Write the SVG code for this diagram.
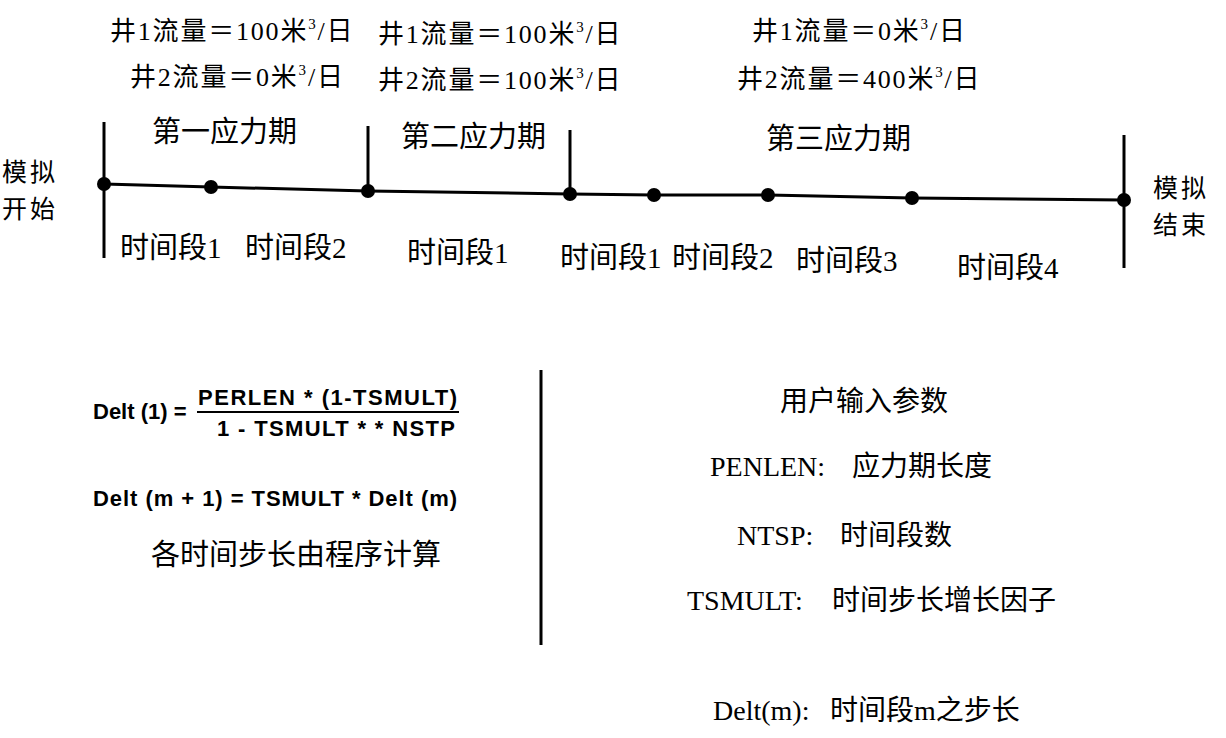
<svg xmlns="http://www.w3.org/2000/svg" width="1226" height="738" viewBox="0 0 1226 738">
<style>
.t{font-family:'Liberation Serif','Noto Sans CJK SC',serif;font-size:26px;letter-spacing:1.8px;fill:#000}
.c{font-family:'Noto Sans CJK SC',sans-serif;font-size:29px;fill:#000}
.s{font-family:'Liberation Serif','Noto Sans CJK SC',serif;font-size:29px;fill:#000}
.f{font-family:'Liberation Sans',Arial,sans-serif;font-size:22px;font-weight:bold;fill:#000}
.r{font-family:'Liberation Serif','Noto Sans CJK SC',serif;font-size:28px;fill:#000}
.ln{stroke:#000;stroke-width:3;fill:none}
.sup{font-size:15px}
.e{font-family:'Noto Sans CJK SC',sans-serif;font-size:25px;letter-spacing:3px;fill:#000}
</style>
<rect width="1226" height="738" fill="#fff"/>
<g id="flows">
<text class="t" x="110" y="40">井1流量＝100米<tspan class="sup" dy="-11">3</tspan><tspan dy="11">/日</tspan></text>
<text class="t" x="130" y="86">井2流量＝0米<tspan class="sup" dy="-11">3</tspan><tspan dy="11">/日</tspan></text>
<text class="t" x="378" y="43">井1流量＝100米<tspan class="sup" dy="-11">3</tspan><tspan dy="11">/日</tspan></text>
<text class="t" x="378" y="89">井2流量＝100米<tspan class="sup" dy="-11">3</tspan><tspan dy="11">/日</tspan></text>
<text class="t" x="752" y="40">井1流量＝0米<tspan class="sup" dy="-11">3</tspan><tspan dy="11">/日</tspan></text>
<text class="t" x="737" y="88">井2流量＝400米<tspan class="sup" dy="-11">3</tspan><tspan dy="11">/日</tspan></text>
</g>
<g id="periods">
<text class="c" x="152" y="142">第一应力期</text>
<text class="c" x="401" y="147">第二应力期</text>
<text class="c" x="766" y="149">第三应力期</text>
</g>
<g id="start">
<text class="e" x="2" y="181">模拟</text>
<text class="e" x="2" y="218">开始</text>
</g>
<g id="end">
<text class="e" x="1153" y="197">模拟</text>
<text class="e" x="1153" y="234">结束</text>
</g>
<g id="connectors">
<polyline class="ln" points="104,184 211,187 368,191 570,194 654,195 768,195 912,198 1124,200"/>
<line class="ln" x1="104" y1="122" x2="104" y2="258"/>
<line class="ln" x1="368" y1="126" x2="368" y2="191"/>
<line class="ln" x1="570" y1="130" x2="570" y2="194"/>
<line class="ln" x1="1124" y1="135" x2="1124" y2="268"/>
<line class="ln" x1="541" y1="370" x2="541" y2="645" stroke-width="2"/>
</g>
<g id="dots" fill="#000">
<circle cx="104" cy="184" r="7"/>
<circle cx="211" cy="187" r="7"/>
<circle cx="368" cy="191" r="7"/>
<circle cx="570" cy="194" r="7"/>
<circle cx="654" cy="195" r="7"/>
<circle cx="768" cy="195" r="7"/>
<circle cx="912" cy="198" r="7"/>
<circle cx="1124" cy="200" r="7"/>
</g>
<g id="steps">
<text class="s" x="120" y="258">时间段1</text>
<text class="s" x="245" y="258">时间段2</text>
<text class="s" x="407" y="263">时间段1</text>
<text class="s" x="560" y="268">时间段1</text>
<text class="s" x="672" y="268">时间段2</text>
<text class="s" x="796" y="271">时间段3</text>
<text class="s" x="957" y="278">时间段4</text>
</g>
<g id="formula">
<text class="f" x="93" y="419">Delt (1) =</text>
<text class="f" x="198" y="405" textLength="259" lengthAdjust="spacing">PERLEN * (1-TSMULT)</text>
<line x1="197" y1="412" x2="459" y2="412" stroke="#000" stroke-width="2"/>
<text class="f" x="217" y="436" textLength="238" lengthAdjust="spacing">1 - TSMULT * * NSTP</text>
<text class="f" x="93" y="506" textLength="364" lengthAdjust="spacing">Delt (m + 1) = TSMULT * Delt (m)</text>
<text class="c" x="151" y="565" font-size="27">各时间步长由程序计算</text>
</g>
<g id="params">
<text class="r" x="780" y="411">用户输入参数</text>
<text class="r" x="710" y="476">PENLEN:<tspan x="852">应力期长度</tspan></text>
<text class="r" x="737" y="545">NTSP:<tspan x="840">时间段数</tspan></text>
<text class="r" x="687" y="610">TSMULT:<tspan x="832">时间步长增长因子</tspan></text>
<text class="r" x="713" y="720">Delt(m):<tspan x="830">时间段m之步长</tspan></text>
</g>
</svg>
